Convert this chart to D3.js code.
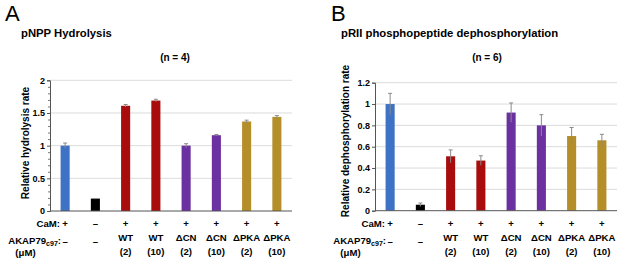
<!DOCTYPE html>
<html lang="en">
<head>
<meta charset="UTF-8">
<title>AKAP79 phosphatase assays</title>
<script src="https://d3js.org/d3.v7.min.js"></script>
<style>
  body { margin: 0; background: #fff; }
  text { font-family: "Liberation Sans", Arial, sans-serif; fill: #000; }
</style>
</head>
<body>
<svg id="chart" width="617" height="263"></svg>
<script>
// ---- data ----
const camRow = ['+', '–', '+', '+', '+', '+', '+', '+'];
const akapRow = ['–', '–', 'WT', 'WT', 'ΔCN', 'ΔCN', 'ΔPKA', 'ΔPKA'];
const concRow = ['', '', '(2)', '(10)', '(2)', '(10)', '(2)', '(10)'];
const barColors = ['#3d72c4', '#000000', '#a80c0c', '#a80c0c', '#6b31a0', '#6b31a0', '#b48f29', '#b48f29'];

const hydrolysisRate = [1.0, 0.19, 1.61, 1.69, 1.0, 1.16, 1.37, 1.44];
const hydrolysisErr = [0.04, 0.0, 0.02, 0.02, 0.03, 0.01, 0.02, 0.02];
const hydrolysisTicks = [0, 0.5, 1, 1.5, 2];
const hydrolysisMinor = [0.1, 0.2, 0.3, 0.4, 0.6, 0.7, 0.8, 0.9, 1.1, 1.2, 1.3, 1.4, 1.6, 1.7, 1.8, 1.9];

const dephosRate = [1.0, 0.056, 0.51, 0.47, 0.92, 0.80, 0.70, 0.66];
const dephosErr = [0.10, 0.016, 0.06, 0.045, 0.09, 0.10, 0.08, 0.056];
const dephosTicks = [0, 0.2, 0.4, 0.6, 0.8, 1, 1.2];
const dephosMinor = [];

const svg = d3.select('#chart');

function drawPanel(p) {
  const g = svg.append('g');
  const x = d3.scaleBand()
    .domain(d3.range(p.values.length))
    .range([p.x0, p.x1])
    .paddingInner(0.7).paddingOuter(0.35);
  const y = d3.scaleLinear()
    .domain([0, d3.max(p.ticks)])
    .range([p.y0, p.y1]);

  // panel letter + titles
  g.append('text').attr('x', p.letterX).attr('y', 21)
    .style('font-size', '22px').text(p.letter);
  g.append('text').attr('x', p.titleX).attr('y', 37)
    .style('font-size', '11.3px').style('font-weight', 'bold').text(p.title);
  g.append('text').attr('x', p.nX).attr('y', 61).attr('text-anchor', 'middle')
    .style('font-size', '10px').style('font-weight', 'bold').text(p.n);

  // gridlines
  g.selectAll('.grid').data(p.ticks.filter(t => t > 0)).enter()
    .append('line')
    .attr('x1', p.x0).attr('x2', p.x1)
    .attr('y1', d => y(d)).attr('y2', d => y(d))
    .attr('stroke', '#dcdcdc').attr('stroke-width', 1);

  // bars
  g.selectAll('.bar').data(p.values).enter()
    .append('rect')
    .attr('x', (d, i) => x(i))
    .attr('width', x.bandwidth())
    .attr('y', d => y(d))
    .attr('height', d => y(0) - y(d))
    .attr('fill', (d, i) => barColors[i]);

  // error bars
  const eb = g.selectAll('.err').data(p.values).enter().append('g')
    .attr('stroke', '#8a8a8a').attr('stroke-width', 1);
  eb.append('line')
    .attr('x1', (d, i) => x(i) + x.bandwidth() / 2)
    .attr('x2', (d, i) => x(i) + x.bandwidth() / 2)
    .attr('y1', (d, i) => y(d - p.errs[i]))
    .attr('y2', (d, i) => y(d + p.errs[i]));
  eb.append('line')
    .attr('x1', (d, i) => x(i) + x.bandwidth() / 2 - 2)
    .attr('x2', (d, i) => x(i) + x.bandwidth() / 2 + 2)
    .attr('y1', (d, i) => y(d + p.errs[i]))
    .attr('y2', (d, i) => y(d + p.errs[i]));

  // axes
  const minor = g.append('g')
    .attr('transform', `translate(${p.x0},0)`)
    .call(d3.axisLeft(y).tickValues(p.minor).tickFormat('').tickSize(2));
  minor.select('.domain').remove();
  minor.selectAll('.tick line').attr('stroke', '#777');

  const yAxis = g.append('g')
    .attr('transform', `translate(${p.x0},0)`)
    .call(d3.axisLeft(y).tickValues(p.ticks).tickFormat(d => String(d)).tickSize(3).tickPadding(2));
  yAxis.select('.domain').attr('stroke', '#555');
  yAxis.selectAll('.tick line').attr('stroke', '#555');
  yAxis.selectAll('text')
    .style('font-family', '"Liberation Sans", Arial, sans-serif')
    .style('font-size', '9px').style('font-weight', 'bold').attr('fill', '#000');

  g.append('line')
    .attr('x1', p.x0).attr('x2', p.x1)
    .attr('y1', y(0)).attr('y2', y(0))
    .attr('stroke', '#555').attr('stroke-width', 1);

  // y label
  g.append('text')
    .attr('transform', `translate(${p.yLabelX},${p.yLabelY}) rotate(-90)`)
    .attr('text-anchor', 'middle')
    .style('font-size', '10px').style('font-weight', 'bold')
    .text(p.yLabel);

  // condition rows
  const cx = i => x(i) + x.bandwidth() / 2;
  const bold = sel => sel.style('font-size', '9.6px').style('font-weight', 'bold');

  bold(g.append('text').attr('x', p.x0 + 10).attr('y', 227).attr('text-anchor', 'end').text('CaM:'));
  g.selectAll('.cam').data(camRow).enter().append('text')
    .attr('x', (d, i) => cx(i)).attr('y', 227).attr('text-anchor', 'middle')
    .call(bold).text(d => d);

  const ak = g.append('text').attr('x', p.x0 + 11).attr('y', 244).attr('text-anchor', 'end').call(bold);
  ak.append('tspan').text('AKAP79');
  ak.append('tspan').attr('dy', 2).style('font-size', '7px').text('c97');
  ak.append('tspan').attr('dy', -2).text(':');
  bold(g.append('text').attr('x', p.x0 - 24.5).attr('y', 256).attr('text-anchor', 'middle').text('(μM)'));

  g.selectAll('.akap').data(akapRow).enter().append('text')
    .attr('x', (d, i) => cx(i)).attr('y', (d, i) => concRow[i] ? 241 : 245)
    .attr('text-anchor', 'middle')
    .call(bold).text(d => d);
  g.selectAll('.conc').data(concRow).enter().append('text')
    .attr('x', (d, i) => cx(i)).attr('y', 254.5).attr('text-anchor', 'middle')
    .call(bold).text(d => d);
}

drawPanel({
  values: hydrolysisRate, errs: hydrolysisErr, ticks: hydrolysisTicks, minor: hydrolysisMinor,
  x0: 50, x1: 292, y0: 211, y1: 80.3,
  letter: 'A', letterX: 5, title: 'pNPP Hydrolysis', titleX: 21,
  n: '(n = 4)', nX: 175,
  yLabel: 'Relative hydrolysis rate', yLabelX: 28.5, yLabelY: 143
});

drawPanel({
  values: dephosRate, errs: dephosErr, ticks: dephosTicks, minor: dephosMinor,
  x0: 375, x1: 617, y0: 210.7, y1: 82.7,
  letter: 'B', letterX: 331, title: 'pRII phosphopeptide dephosphorylation', titleX: 341,
  n: '(n = 6)', nX: 487,
  yLabel: 'Relative dephosphorylation rate', yLabelX: 348.5, yLabelY: 141
});
</script>
</body>
</html>
